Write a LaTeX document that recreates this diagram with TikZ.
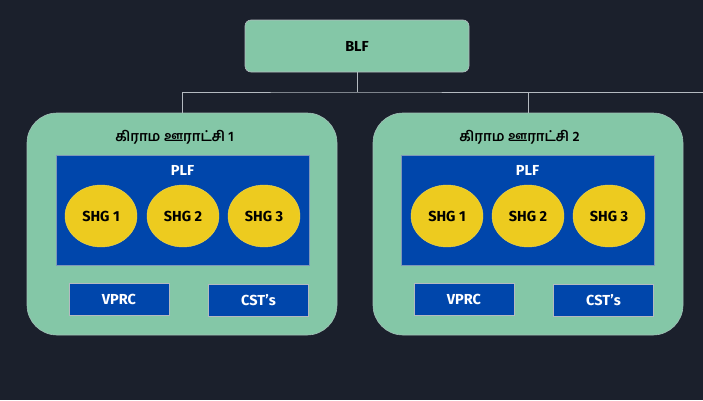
\documentclass[tikz,border=0pt]{standalone}
\usepackage{fontspec}
\setmainfont{Fira Sans}
\newfontfamily\tamilfont[Script=Tamil]{Hind Madurai}
\usetikzlibrary{positioning, shapes.geometric}
\definecolor{bgdark}{HTML}{1B202C}
\definecolor{mint}{HTML}{84C7A7}
\definecolor{plfblue}{HTML}{0046AB}
\definecolor{shgyellow}{HTML}{EDCB1F}
\definecolor{wire}{HTML}{B4BAC0}

\begin{document}
\begin{tikzpicture}[x=1pt, y=-1pt,
	box/.style={draw=wire, line width=0.6pt, fill=mint, inner sep=0pt, font=\bfseries\fontsize{14.5}{16}\selectfont, text=black},
	village/.style={box, draw=wire!60!mint, rounded corners=30pt, minimum width=310pt, minimum height=222pt},
	plfbox/.style={draw=wire!70!plfblue, line width=0.5pt, fill=plfblue, inner sep=0pt, minimum width=253pt, minimum height=110pt},
	shg/.style={ellipse, fill=shgyellow, draw=shgyellow!80!white, inner sep=0pt, minimum width=72pt, minimum height=62pt, font=\bfseries\fontsize{14.5}{16}\selectfont},
	unit/.style={draw=wire, line width=0.6pt, fill=plfblue, inner sep=0pt, minimum width=100pt, minimum height=32pt, text=white, font=\bfseries\fontsize{14.5}{16}\selectfont},
	title/.style={font=\tamilfont\bfseries\fontsize{14}{16}\selectfont, text=black, inner sep=0pt},
	link/.style={draw=wire, line width=1pt}]
	\fill[bgdark] (0,0) rectangle (703,400);
	\useasboundingbox (0,0) rectangle (703,400);
	
	\node[box, rounded corners=6pt, minimum width=224pt, minimum height=52pt] (blf) at (357,46) {BLF};
	
	\node[village] (v1) at (182,224) {};
	\node[village] (v2) at (528,224) {};
	
	\node[plfbox] (plf1) at (182.5,210) {};
	\node[plfbox] (plf2) at (527.5,210) {};
	\node[above=10pt of plf1.north, anchor=south, xshift=-8pt, title] (t1) {கிராம ஊராட்சி 1};
	\node[above=10pt of plf2.north, anchor=south, xshift=-8pt, title] (t2) {கிராம ஊராட்சி 2};
	\node[below=10pt of plf1.north, text=white, inner sep=0pt, font=\bfseries\fontsize{14.5}{16}\selectfont] (p1) {PLF};
	\node[below=10pt of plf2.north, text=white, inner sep=0pt, font=\bfseries\fontsize{14.5}{16}\selectfont] (p2) {PLF};
	
	\node[shg] (s11) at (101,216) {SHG 1};
	\node[shg] (s12) at (183,216) {SHG 2};
	\node[shg] (s13) at (264,216) {SHG 3};
	\node[shg] (s21) at (447,216) {SHG 1};
	\node[shg] (s22) at (528,216) {SHG 2};
	\node[shg] (s23) at (609,216) {SHG 3};
	
	\node[unit] (vp1) at (119,299) {VPRC};
	\node[unit] (cs1) at (258.5,300.5) {CST's};
	\node[unit] (vp2) at (464,299) {VPRC};
	\node[unit] (cs2) at (603.5,300.5) {CST's};
	
	\coordinate (bus) at (357,92);
	\coordinate (offpage) at (703,92);
	\draw[link] (blf.south) -- (bus);
	\draw[link] (v1.north) |- (bus) -| (v2.north);
	\draw[link] (v2.north) |- (offpage);
\end{tikzpicture}
\end{document}
